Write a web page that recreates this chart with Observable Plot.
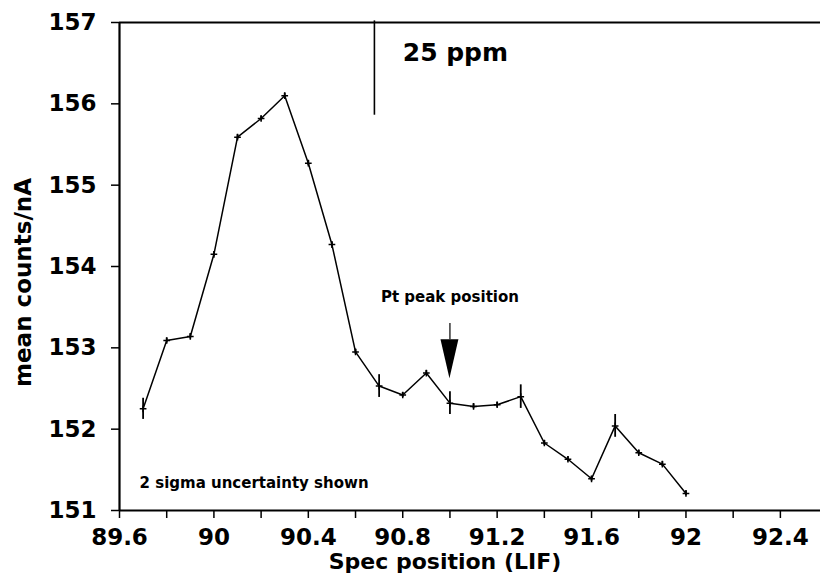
<!DOCTYPE html>
<html>
<head>
<meta charset="utf-8">
<script src="https://cdn.jsdelivr.net/npm/d3@7"></script>
<script src="https://cdn.jsdelivr.net/npm/@observablehq/plot@0.6"></script>
<style>
  html, body { margin: 0; padding: 0; background: #fff; }
  #chart svg { display: block; }
</style>
</head>
<body>
<div id="chart"></div>
<script>
// ---- data ----
const specPosition = [89.7, 89.8, 89.9, 90.0, 90.1, 90.2, 90.3, 90.4, 90.5, 90.6, 90.7, 90.8,
                      90.9, 91.0, 91.1, 91.2, 91.3, 91.4, 91.5, 91.6, 91.7, 91.8, 91.9, 92.0];
const meanCounts   = [152.25, 153.09, 153.14, 154.15, 155.59, 155.82, 156.10, 155.27, 154.27, 152.95, 152.53, 152.42,
                      152.69, 152.32, 152.28, 152.30, 152.40, 151.83, 151.63, 151.39, 152.04, 151.71, 151.57, 151.21];
const twoSigma     = [0.13, 0.03, 0.03, 0.03, 0.03, 0.03, 0.03, 0.03, 0.03, 0.03, 0.14, 0.03,
                      0.03, 0.14, 0.03, 0.03, 0.145, 0.03, 0.03, 0.03, 0.14, 0.03, 0.03, 0.03];

const xTickValues = [89.6, 89.8, 90, 90.2, 90.4, 90.6, 90.8, 91, 91.2, 91.4, 91.6, 91.8, 92, 92.2, 92.4];
const xTickLabeled = [89.6, 90, 90.4, 90.8, 91.2, 91.6, 92, 92.4];
const yTickValues = [151, 152, 153, 154, 155, 156, 157];

const xDomain = [89.6, 92.57];
const yDomain = [151, 157];

// annotations
const peakLabel = ["Pt peak position"];
const peakLabelPos = {x: 91.0, y: 153.62};
const arrowX = 91.0, arrowShaftTop = 153.30, arrowBase = 153.10, arrowTip = 152.62, arrowHalfWidth = 0.038;
const scaleBarX = 90.68, scaleBarY1 = 155.86, scaleBarY2 = 157.02;
const scaleLabel = ["25 ppm"];
const scaleLabelPos = {x: 90.80, y: 156.62};
const noteLabel = ["2 sigma uncertainty shown"];
const noteLabelPos = {x: 89.685, y: 151.33};
const xTitle = "Spec position (LIF)";
const yTitle = "mean counts/nA";

// ---- build ----
const points = specPosition.map((x, i) => ({x, y: meanCounts[i], e: twoSigma[i]}));
const arrowHead = [
  {x: arrowX - arrowHalfWidth, y1: arrowBase, y2: arrowBase},
  {x: arrowX, y1: arrowBase, y2: arrowTip},
  {x: arrowX + arrowHalfWidth, y1: arrowBase, y2: arrowBase}
];
const FONT = "DejaVu Sans";

const chart = Plot.plot({
  width: 820,
  height: 581,
  marginLeft: 119,
  marginRight: 0,
  marginTop: 22,
  marginBottom: 71,
  style: {fontFamily: FONT, fontSize: "15px", background: "#fff", color: "#000", overflow: "visible"},
  x: {domain: xDomain},
  y: {domain: yDomain},
  marks: [
    // frame lines
    Plot.ruleY([yDomain[1]], {strokeWidth: 2.2}),
    Plot.ruleY([yDomain[0]], {strokeWidth: 2.2}),
    Plot.ruleX([xDomain[0]], {strokeWidth: 2.2}),
    // axes
    Plot.axisX(xTickValues, {
      tickSize: 8, tickPadding: 10, strokeWidth: 1.5,
      tickFormat: d => xTickLabeled.includes(d) ? String(d) : "",
      fontSize: 23, fontWeight: "bold", fontFamily: FONT, label: null
    }),
    Plot.axisY(yTickValues, {
      tickSize: 8, tickPadding: 15, strokeWidth: 1.5,
      tickFormat: d => String(d),
      fontSize: 23, fontWeight: "bold", fontFamily: FONT, label: null
    }),
    Plot.text([xTitle], {frameAnchor: "bottom", dx: -25, dy: 58, fontSize: 22, fontWeight: "bold", fontFamily: FONT}),
    Plot.text([yTitle], {frameAnchor: "left", textAnchor: "middle", rotate: -90, dx: -96, dy: 16, fontSize: 23, fontWeight: "bold", fontFamily: FONT}),
    // data
    Plot.line(points, {x: "x", y: "y", strokeWidth: 1.5}),
    Plot.ruleX(points, {x: "x", y1: d => d.y - d.e, y2: d => d.y + d.e, strokeWidth: 1.8}),
    Plot.dot(points, {x: "x", y: "y", symbol: "plus", r: 2.3, stroke: "#000", strokeWidth: 1.5}),
    // arrow
    Plot.ruleX([arrowX], {y1: arrowShaftTop, y2: arrowBase, strokeWidth: 1.2}),
    Plot.areaY(arrowHead, {x: "x", y1: "y1", y2: "y2", fill: "#000", curve: "linear"}),
    Plot.text(peakLabel, {x: peakLabelPos.x, y: peakLabelPos.y, fontSize: 15, fontWeight: "bold", fontFamily: FONT}),
    // scale bar
    Plot.ruleX([scaleBarX], {y1: scaleBarY1, y2: scaleBarY2, strokeWidth: 1.6}),
    Plot.text(scaleLabel, {x: scaleLabelPos.x, y: scaleLabelPos.y, textAnchor: "start", fontSize: 25, fontWeight: "bold", fontFamily: FONT}),
    // note
    Plot.text(noteLabel, {x: noteLabelPos.x, y: noteLabelPos.y, textAnchor: "start", fontSize: 15, fontWeight: "bold", fontFamily: FONT})
  ]
});
document.getElementById("chart").appendChild(chart);
</script>
</body>
</html>
